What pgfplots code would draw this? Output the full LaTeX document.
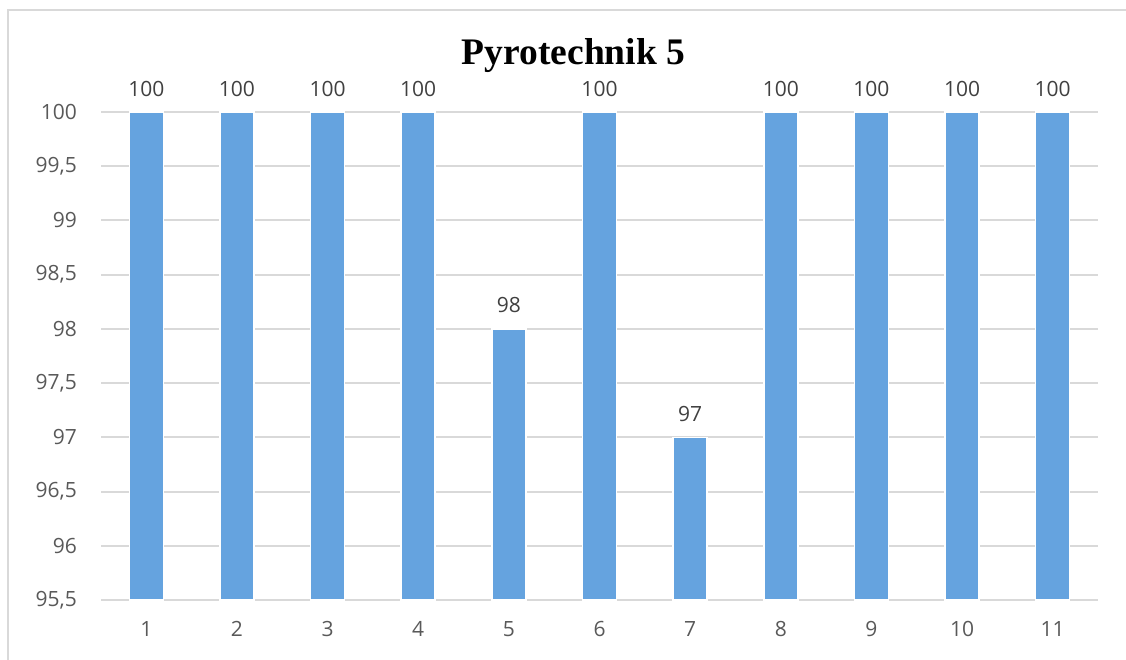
\documentclass[border=0pt]{standalone}
\usepackage{pgfplots}
\pgfplotsset{compat=1.18}
\usepackage{pgfplotstable}
\usepackage{fontspec}
\setmainfont{Open Sans}
\newfontfamily\titlefont{Liberation Serif}
\definecolor{barblue}{RGB}{101,163,223}
\definecolor{gridgray}{RGB}{217,217,217}
\definecolor{ticktext}{RGB}{89,89,89}
\definecolor{labeltext}{RGB}{64,64,64}
\pgfplotstableread{
x y
1 100
2 100
3 100
4 100
5 98
6 100
7 97
8 100
9 100
10 100
11 100
}\datatable
\begin{document}
\begin{tikzpicture}[x=1pt,y=1pt]
\path[use as bounding box] (0,0) rectangle (1126,659);
\draw[gridgray, line width=2pt] (8,-20) -- (8,649) -- (1160,649);
\node[font=\titlefont\bfseries\fontsize{37.5}{42}\selectfont, anchor=base] at (573.5,594) {Pyrotechnik 5};
\begin{axis}[
  at={(101pt,59pt)}, anchor=south west,
  scale only axis, width=997pt, height=488pt,
  ybar, bar width=34pt,
  xmin=0.5, xmax=11.5, ymin=95.5, ymax=100,
  xtick=data,
  ytick={95.5,96,...,100},
  /pgf/number format/use comma,
  /pgf/number format/assume math mode=true,
  axis line style={draw=none},
  major tick length=0pt,
  ymajorgrids, grid style={gridgray, line width=2pt},
  tick label style={font=\fontsize{21}{24}\selectfont, text=ticktext, inner sep=0pt},
  yticklabel style={xshift=-24pt},
  xticklabel style={yshift=-21pt},
  nodes near coords,
  every node near coord/.append style={font=\fontsize{21}{24}\selectfont, text=labeltext, inner sep=0pt, anchor=south, yshift=15pt},
  clip=false,
]
\addplot[fill=barblue, draw=white, line width=1.5pt] table[x=x,y=y] {\datatable};
\end{axis}
\end{tikzpicture}
\end{document}
